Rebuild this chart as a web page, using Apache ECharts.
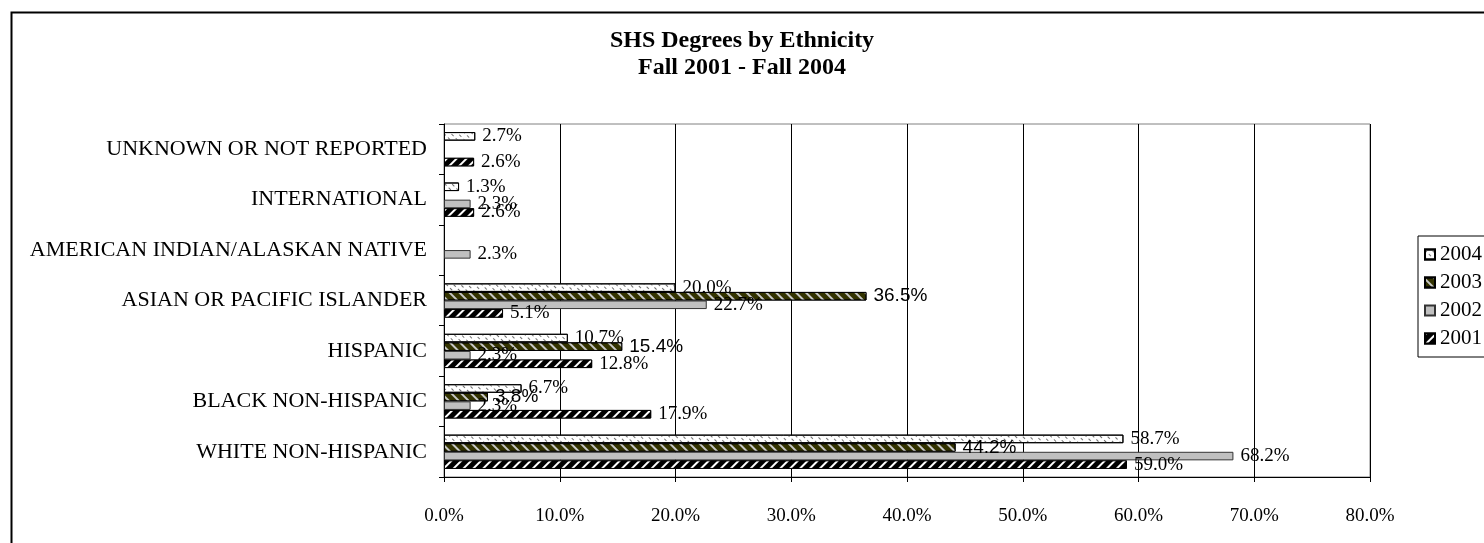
<!DOCTYPE html>
<html>
<head>
<meta charset="utf-8">
<script src="https://cdn.jsdelivr.net/npm/echarts@6/dist/echarts.min.js"></script>
<style>
html,body{margin:0;padding:0;background:#fff;}
#c{width:1484px;height:543px;}
</style>
</head>
<body>
<div id="c"></div>
<script>
var categories = ['WHITE NON-HISPANIC','BLACK NON-HISPANIC','HISPANIC','ASIAN OR PACIFIC ISLANDER','AMERICAN INDIAN/ALASKAN NATIVE','INTERNATIONAL','UNKNOWN OR NOT REPORTED'];
var seriesNames = ['2004','2003','2002','2001'];
var v2004 = [58.7, 6.7, 10.7, 20.0, null, 1.3, 2.7];
var v2003 = [44.2, 3.8, 15.4, 36.5, null, null, null];
var v2002 = [68.2, 2.3, 2.3, 22.7, 2.3, 2.3, null];
var v2001 = [59.0, 17.9, 12.8, 5.1, null, 2.6, 2.6];
var xTicks = [0, 10, 20, 30, 40, 50, 60, 70, 80];

var serif = 'Liberation Serif';
var sans = 'Liberation Sans';

function pct(v){ return v.toFixed(1) + '%'; }

function mkSeries(name, data, color, decal, labelFont, labelSize, borderColor){
  return {
    name: name,
    type: 'bar',
    data: data,
    barGap: '0%',
    barCategoryGap: '32%',
    itemStyle: { color: color, borderColor: borderColor || '#000', borderWidth: 1, decal: decal },
    label: {
      show: true, position: 'right', distance: 7,
      fontFamily: labelFont, fontSize: labelSize, color: '#000',
      formatter: function(p){ return pct(p.value); }
    }
  };
}

var chart = echarts.init(document.getElementById('c'), null, {renderer: 'canvas'});
chart.setOption({
  backgroundColor: '#fff',
  animation: false,
  title: {
    text: 'SHS Degrees by Ethnicity\nFall 2001 - Fall 2004',
    left: 'center', top: 22,
    textStyle: { fontFamily: serif, fontWeight: 'bold', fontSize: 24, lineHeight: 27, color: '#000' }
  },
  graphic: [{
    type: 'rect', left: 9, top: 10, silent: true,
    shape: { x: 0, y: 0, width: 1600, height: 700 },
    style: { fill: 'none', stroke: '#000', lineWidth: 2 },
    z: -1
  }],
  legend: {
    orient: 'vertical',
    left: 1418, top: 236,
    itemWidth: 10, itemHeight: 10, itemGap: 7,
    padding: [8, 40, 8, 6],
    borderColor: '#000', borderWidth: 1,
    icon: 'rect',
    textStyle: { fontFamily: serif, fontSize: 21, color: '#000' },
    data: seriesNames
  },
  grid: {
    left: 444, right: 114, top: 124, bottom: 66,
    show: true, borderColor: '#808080', borderWidth: 1, backgroundColor: 'transparent'
  },
  xAxis: {
    type: 'value', min: 0, max: 80, interval: 10,
    axisLine: { show: true, lineStyle: { color: '#000' } },
    axisTick: { show: true, length: 5, lineStyle: { color: '#000' } },
    splitLine: { show: true, lineStyle: { color: '#000', width: 1 } },
    axisLabel: { fontFamily: serif, fontSize: 19, color: '#000', margin: 30, formatter: function(v){ return pct(v); } }
  },
  yAxis: {
    type: 'category', data: categories,
    axisLine: { show: true, lineStyle: { color: '#000' } },
    axisTick: { show: true, length: 5, lineStyle: { color: '#000' } },
    axisLabel: { fontFamily: serif, fontSize: 22, color: '#000', margin: 17 }
  },
  series: [
    mkSeries('2004', v2004, '#ffffff',
      { symbol: 'rect', symbolSize: 1, dashArrayX: [[3, 3]], dashArrayY: [1, 4], rotation: Math.PI / 4, color: '#707070' },
      serif, 19),
    mkSeries('2003', v2003, '#333300',
      { symbol: 'rect', symbolSize: 1, dashArrayX: [1, 0], dashArrayY: [2, 5], rotation: Math.PI / 4, color: '#c8c8c8' },
      sans, 19),
    mkSeries('2002', v2002, '#c0c0c0', null, serif, 19, '#333'),
    mkSeries('2001', v2001, '#000000',
      { symbol: 'rect', symbolSize: 1, dashArrayX: [1, 0], dashArrayY: [2, 5], rotation: -Math.PI / 4, color: '#ffffff' },
      serif, 19)
  ]
});
</script>
</body>
</html>
